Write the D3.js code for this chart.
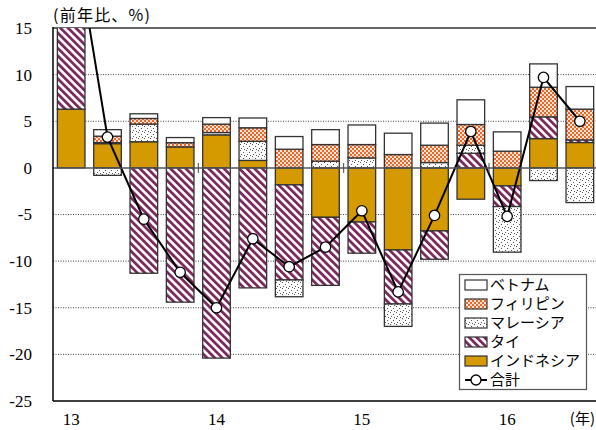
<!DOCTYPE html>
<html><head><meta charset="utf-8">
<script src="https://cdn.jsdelivr.net/npm/d3@7"></script>
<style>
html,body{margin:0;padding:0;background:#fff;}
svg{display:block;}
.serif{font-family:"Liberation Serif","Times New Roman",Times,serif;}
.jp{font-family:"Noto Sans CJK JP","Noto Sans",sans-serif;}
</style></head>
<body>
<svg id="c" width="596" height="430"></svg>
<script>
const categories = ["13Q1","13Q2","13Q3","13Q4","14Q1","14Q2","14Q3","14Q4","15Q1","15Q2","15Q3","15Q4","16Q1","16Q2","16Q3"];
const indonesia   = [6.3, 2.6, 2.8, 2.25, 3.54, 0.8, -1.82, -5.3, -5.8, -8.8, -6.76, -3.36, -1.93, 3.14, 2.72];
const thai        = [20.7, 0.1, -11.3, -14.4, -20.4, -12.87, -10.2, -7.3, -3.35, -5.8, -3.04, 1.57, -2.22, 2.33, 0.28];
const malaysia    = [0, -0.8, 1.9, 0, 0.25, 2.05, -1.8, 0.72, 1.07, -2.4, 0.57, 0.86, -4.89, -1.36, -3.72];
const philippines = [0, 0.7, 0.6, 0.45, 0.9, 1.45, 2.0, 1.78, 1.43, 1.43, 1.86, 2.22, 1.79, 3.18, 3.3];
const vietnam     = [0, 0.7, 0.5, 0.55, 0.7, 1.05, 1.36, 1.6, 2.1, 2.29, 2.37, 2.65, 2.07, 2.5, 2.42];
const total       = [27, 3.3, -5.5, -11.2, -15.0, -7.6, -10.6, -8.5, -4.6, -13.3, -5.1, 3.9, -5.2, 9.7, 5.0];
const yTicks = [15, 10, 5, 0, -5, -10, -15, -20, -25];
const yearLabels = [{cat:"13Q1", label:"13"},{cat:"14Q1", label:"14"},{cat:"15Q1", label:"15"},{cat:"16Q1", label:"16"}];
const seriesKeys = ["indonesia","thai","malaysia","philippines","vietnam"];

const svg = d3.select("#c");
const defs = svg.append("defs");
const L = 53, R = 598, T = 28, B = 401;

// patterns
const pStripe = defs.append("pattern").attr("id","pThai").attr("patternUnits","userSpaceOnUse")
  .attr("width",5.4).attr("height",5.4).attr("patternTransform","rotate(-45)");
pStripe.append("rect").attr("width",5.4).attr("height",5.4).attr("fill","#fff");
pStripe.append("rect").attr("width",2.8).attr("height",5.4).attr("fill","#7a2a5c");

const pCheck = defs.append("pattern").attr("id","pPhil").attr("patternUnits","userSpaceOnUse")
  .attr("width",4).attr("height",4);
pCheck.append("rect").attr("width",4).attr("height",4).attr("fill","#fbe3d3");
pCheck.append("rect").attr("width",2).attr("height",2).attr("fill","#e8682c");
pCheck.append("rect").attr("x",2).attr("y",2).attr("width",2).attr("height",2).attr("fill","#e8682c");

const pDot = defs.append("pattern").attr("id","pMal").attr("patternUnits","userSpaceOnUse")
  .attr("width",6).attr("height",6);
pDot.append("rect").attr("width",6).attr("height",6).attr("fill","#fff");
[[0,0],[3,2],[1,4],[4,5]].forEach(([x,y])=>pDot.append("rect").attr("x",x).attr("y",y).attr("width",1).attr("height",1).attr("fill","#555"));

defs.append("clipPath").attr("id","plotClip").append("rect")
  .attr("x",L).attr("y",T).attr("width",R-L).attr("height",B-T);

const fills = {indonesia:"#d49a00", thai:"url(#pThai)", malaysia:"url(#pMal)", philippines:"url(#pPhil)", vietnam:"#fff"};

const x = d3.scaleBand().domain(categories).range([L,R]).paddingInner(0.24).paddingOuter(0.12);
const y = d3.scaleLinear().domain([-25,15]).range([B,T]);

// gridlines
svg.append("g").selectAll("line").data(yTicks.filter(v=>v!==0 && v!==15 && v!==-25)).join("line")
  .attr("x1",L).attr("x2",596).attr("y1",d=>y(d)).attr("y2",d=>y(d))
  .attr("stroke","#444").attr("stroke-width",1).attr("stroke-dasharray","1,1.5");
svg.append("line").attr("x1",L).attr("x2",596).attr("y1",y(15)).attr("y2",y(15))
  .attr("stroke","#666").attr("stroke-width",2);

// stacked data
const rows = categories.map((c,i)=>({cat:c, indonesia:indonesia[i], thai:thai[i], malaysia:malaysia[i], philippines:philippines[i], vietnam:vietnam[i]}));
const stacked = d3.stack().keys(seriesKeys).offset(d3.stackOffsetDiverging)(rows);

const plot = svg.append("g").attr("clip-path","url(#plotClip)");
stacked.forEach(s=>{
  plot.append("g").selectAll("rect").data(s.filter(d=>Math.abs(d[1]-d[0])>1e-9)).join("rect")
    .attr("x",d=>x(d.data.cat)).attr("width",x.bandwidth())
    .attr("y",d=>y(Math.max(d[0],d[1]))).attr("height",d=>Math.abs(y(d[0])-y(d[1])))
    .attr("fill",fills[s.key]).attr("stroke","#333").attr("stroke-width",1.3);
});

// zero line
svg.append("line").attr("x1",L).attr("x2",596).attr("y1",y(0)).attr("y2",y(0))
  .attr("stroke","#555").attr("stroke-width",1.5);
// year separators
const seps = ["14Q1","15Q1","16Q1"];
svg.append("g").selectAll("line").data(seps).join("line")
  .attr("x1",d=>x(d)-x.step()*0.12).attr("x2",d=>x(d)-x.step()*0.12)
  .attr("y1",y(0)-5).attr("y2",y(0)+5).attr("stroke","#444").attr("stroke-width",1);

// total line
const cx = d=>x(d.cat)+x.bandwidth()/2;
const tdata = categories.map((c,i)=>({cat:c, v:total[i]}));
plot.append("path").datum(tdata)
  .attr("d", d3.line().x(cx).y(d=>y(d.v)))
  .attr("fill","none").attr("stroke","#000").attr("stroke-width",2);
plot.append("g").selectAll("circle").data(tdata).join("circle")
  .attr("cx",cx).attr("cy",d=>y(d.v)).attr("r",5.2)
  .attr("fill","#fff").attr("stroke","#000").attr("stroke-width",1.3);

// axes
svg.append("line").attr("x1",L).attr("x2",L).attr("y1",T-1).attr("y2",B).attr("stroke","#000").attr("stroke-width",1.5);
svg.append("line").attr("x1",L).attr("x2",596).attr("y1",B).attr("y2",B).attr("stroke","#000").attr("stroke-width",1.5);

svg.append("g").selectAll("text").data(yTicks).join("text")
  .attr("class","serif")
  .attr("x",32).attr("y",d=>y(d)).attr("dy","0.35em").attr("text-anchor","end")
  .attr("font-size",17).attr("fill","#000").text(d=>d);

svg.append("g").selectAll("text").data(yearLabels).join("text")
  .attr("class","serif")
  .attr("x",d=>x(d.cat)+x.bandwidth()/2).attr("y",425).attr("text-anchor","middle")
  .attr("font-size",17).attr("fill","#000").text(d=>d.label);

svg.append("text").attr("class","jp").attr("x",53).attr("y",21).attr("font-size",16)
  .attr("textLength",97).attr("lengthAdjust","spacing").attr("fill","#000").text("(前年比、%)");
svg.append("text").attr("class","jp").attr("x",595).attr("y",424).attr("text-anchor","end")
  .attr("font-size",15).attr("fill","#000").text("(年)");

// legend
const lg = svg.append("g");
lg.append("rect").attr("x",459.5).attr("y",274.5).attr("width",127).attr("height",115).attr("fill","#fff").attr("stroke","#555").attr("stroke-width",1.2);
const legendItems = [
  {key:"vietnam", name:"ベトナム"},
  {key:"philippines", name:"フィリピン"},
  {key:"malaysia", name:"マレーシア"},
  {key:"thai", name:"タイ"},
  {key:"indonesia", name:"インドネシア"},
  {key:"total", name:"合計"}
];
legendItems.forEach((it,i)=>{
  const cy = 285 + i*19;
  if(it.key==="total"){
    lg.append("line").attr("x1",465).attr("x2",487).attr("y1",cy).attr("y2",cy).attr("stroke","#000").attr("stroke-width",2);
    lg.append("circle").attr("cx",476).attr("cy",cy).attr("r",5).attr("fill","#fff").attr("stroke","#000").attr("stroke-width",1.3);
  } else {
    lg.append("rect").attr("x",465).attr("y",cy-5).attr("width",22).attr("height",10)
      .attr("fill",fills[it.key]).attr("stroke","#333").attr("stroke-width",1.2);
  }
  lg.append("text").attr("class","jp").attr("x",490).attr("y",cy).attr("dy","0.36em")
    .attr("font-size",15).attr("fill","#000").text(it.name);
});
</script>
</body></html>
